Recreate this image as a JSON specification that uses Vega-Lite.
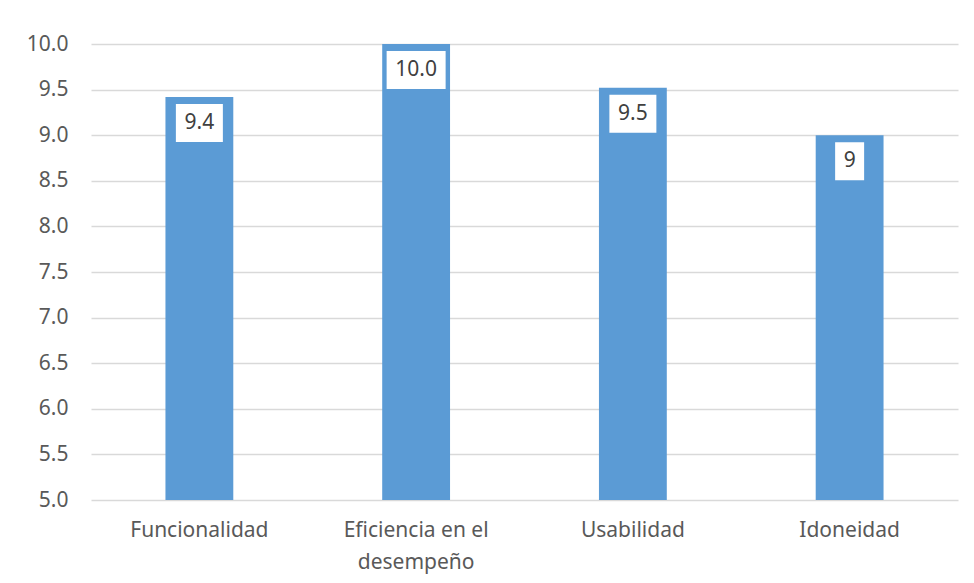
{
  "$schema": "https://vega.github.io/schema/vega-lite/v6.json",
  "autosize": "none",
  "width": 867,
  "height": 456,
  "padding": {"left": 91, "top": 44, "right": 16, "bottom": 83},
  "background": "white",
  "config": {
    "view": {"stroke": null},
    "font": "Noto Sans"
  },
  "data": {
    "values": [
      {"categoria": "Funcionalidad", "valor": 9.42, "etiqueta": "9.4"},
      {"categoria": "Eficiencia en el desempeño", "valor": 10.0, "etiqueta": "10.0"},
      {"categoria": "Usabilidad", "valor": 9.52, "etiqueta": "9.5"},
      {"categoria": "Idoneidad", "valor": 9.0, "etiqueta": "9"}
    ]
  },
  "encoding": {
    "x": {
      "field": "categoria",
      "type": "nominal",
      "sort": null,
      "scale": {"paddingInner": 0.687, "paddingOuter": 0.3435},
      "axis": {
        "title": null,
        "labelAngle": 0,
        "labelFontSize": 21,
        "labelColor": "#595959",
        "labelPadding": 19,
        "labelLineHeight": 32,
        "ticks": false,
        "domain": false,
        "labelExpr": "datum.label == 'Eficiencia en el desempeño' ? ['Eficiencia en el', 'desempeño'] : datum.label"
      }
    },
    "y": {
      "field": "valor",
      "type": "quantitative",
      "scale": {"domain": [5, 10], "zero": false, "nice": false},
      "axis": {
        "title": null,
        "values": [5, 5.5, 6, 6.5, 7, 7.5, 8, 8.5, 9, 9.5, 10],
        "format": ".1f",
        "labelFontSize": 21,
        "labelColor": "#595959",
        "labelPadding": 23,
        "ticks": false,
        "domain": false,
        "gridColor": "#D9D9D9",
        "gridWidth": 1.5
      }
    }
  },
  "layer": [
    {
      "mark": {"type": "bar", "color": "#5B9BD5"},
      "encoding": {"y2": {"datum": 5}}
    },
    {
      "mark": {"type": "bar", "color": "white", "yOffset": 7, "y2Offset": 45},
      "encoding": {
        "y2": {"field": "valor"},
        "size": {
          "field": "etiqueta",
          "type": "nominal",
          "scale": {"type": "ordinal", "domain": ["9.4", "10.0", "9.5", "9"], "range": [47, 59, 47, 29]},
          "legend": null
        }
      }
    },
    {
      "mark": {"type": "text", "fontSize": 21, "color": "#404040", "baseline": "middle", "yOffset": 26},
      "encoding": {
        "text": {"field": "etiqueta"}
      }
    }
  ]
}
